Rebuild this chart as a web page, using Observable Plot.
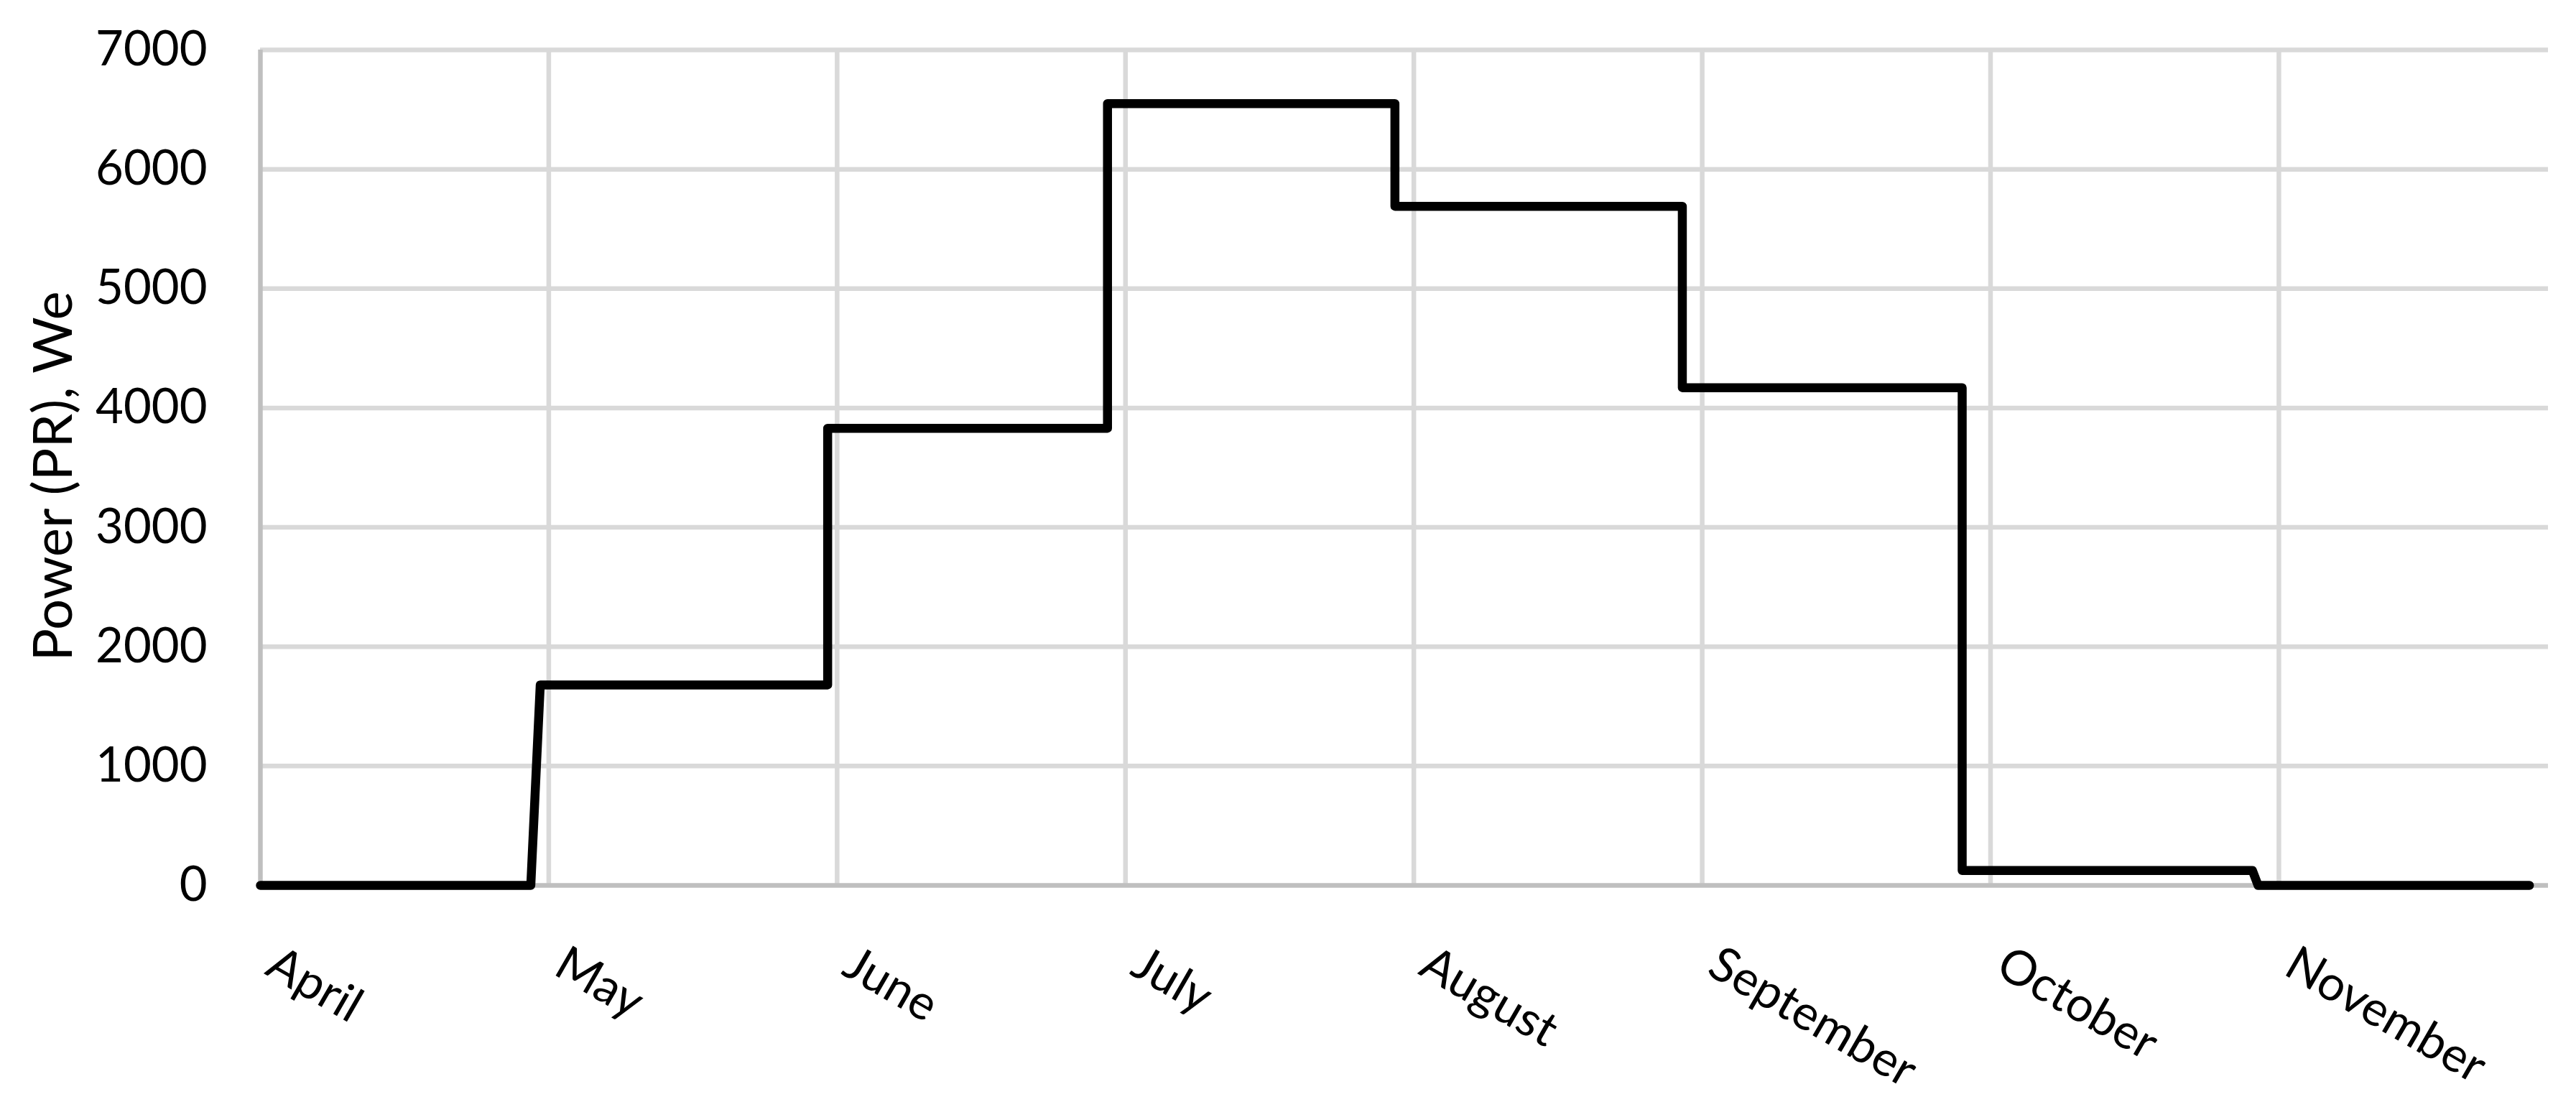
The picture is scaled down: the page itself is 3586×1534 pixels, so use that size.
<!DOCTYPE html>
<html><head><meta charset="utf-8">
<script src="https://cdn.jsdelivr.net/npm/d3@7"></script>
<script src="https://cdn.jsdelivr.net/npm/@observablehq/plot@0.6"></script>
<style>html,body{margin:0;padding:0;background:#fff;}</style>
</head><body><div id="chart"></div>
<script>
const months = ["April", "May", "June", "July", "August", "September", "October", "November"];
const monthStartDays = [0, 30.5, 61, 91.5, 122, 152.5, 183, 213.5];
const stepDays = [0, 28.6, 29.6, 60, 60, 89.6, 89.6, 120, 120, 150.4, 150.4, 180, 180, 210.7, 211.3, 240];
const powerWe = [0, 0, 1680, 1680, 3830, 3830, 6550, 6550, 5690, 5690, 4170, 4170, 125, 125, 0, 0];
const yTicks = [0, 1000, 2000, 3000, 4000, 5000, 6000, 7000];
const yTitle = "Power (PR), We";

const data = stepDays.map((d, i) => ({day: d, power: powerWe[i]}));

const chart = Plot.plot({
  width: 3586, height: 1534,
  marginLeft: 362, marginRight: 39, marginTop: 69, marginBottom: 302,
  style: {fontFamily: "Lato, 'Open Sans', sans-serif", fontSize: "67px", color: "#000", background: "#fff", overflow: "visible"},
  x: {domain: [0, 242]},
  y: {domain: [0, 7000]},
  marks: [
    Plot.gridY(yTicks.slice(1), {stroke: "#d9d9d9", strokeOpacity: 1, strokeWidth: 6.5}),
    Plot.gridX(monthStartDays.slice(1), {stroke: "#d9d9d9", strokeOpacity: 1, strokeWidth: 6.5}),
    Plot.ruleX([0], {stroke: "#bfbfbf", strokeWidth: 6.5}),
    Plot.ruleY([0], {stroke: "#bfbfbf", strokeWidth: 6.5}),
    Plot.axisY(yTicks, {tickSize: 0, tickPadding: 74, tickFormat: d => String(d), label: null, fill: "#000"}),
    Plot.text([yTitle], {frameAnchor: "left", rotate: -90, dx: -287, dy: 12, textAnchor: "middle", lineAnchor: "middle", fontSize: 76, fill: "#000"}),
    Plot.axisX(monthStartDays, {tickSize: 0, tickPadding: 104, tickRotate: 30, textAnchor: "start", lineAnchor: "middle", dx: 15, fill: "#000",
      tickFormat: d => months[monthStartDays.indexOf(d)], label: null}),
    Plot.line(data, {x: "day", y: "power", stroke: "#000", strokeWidth: 12.5, strokeLinejoin: "round", strokeLinecap: "round"})
  ]
});
document.getElementById("chart").appendChild(chart);
</script>
</body></html>
